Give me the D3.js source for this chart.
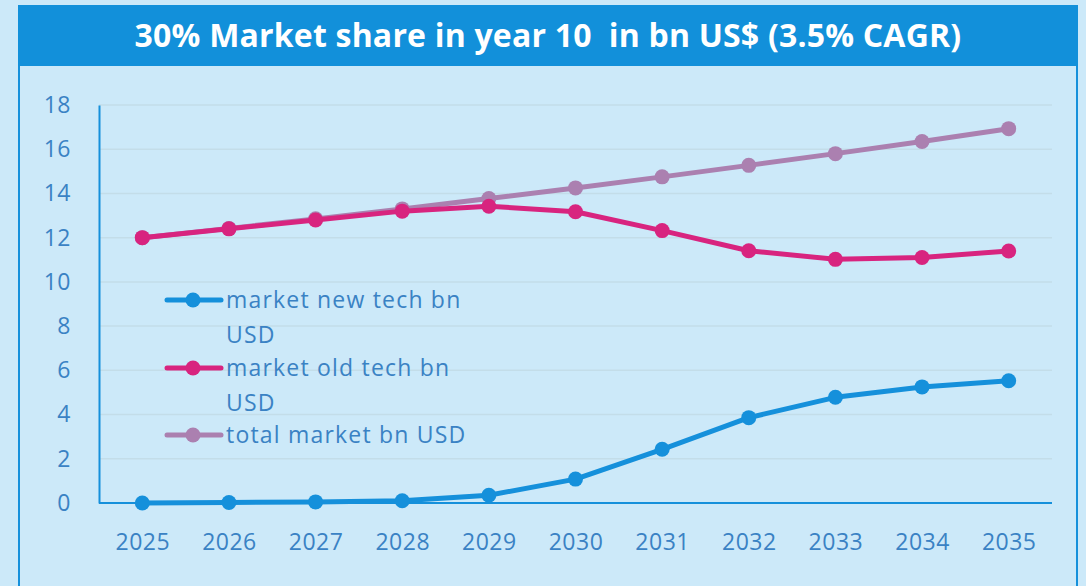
<!DOCTYPE html>
<meta charset="utf-8">
<head>
    <script src="https://d3js.org/d3.v7.min.js"></script>
    <style>
        body { margin: 0; background: #cce9f9; }
        svg { display: block; }
        .tick text { font-family: 'Open Sans', sans-serif; font-size: 23px; fill: #3a82c4; letter-spacing: 0.5px; }
        .legend text { font-family: 'Open Sans', sans-serif; font-size: 23px; fill: #3a82c4; letter-spacing: 1.2px; }
        .title { font-family: 'Open Sans', sans-serif; font-weight: 700; font-size: 32px; fill: #fff; white-space: pre; letter-spacing: 0.2px; }
    </style>
</head>
<body>
<svg width="1086" height="586"></svg>
<script>
    // chart values
    var years = ["2025", "2026", "2027", "2028", "2029", "2030", "2031", "2032", "2033", "2034", "2035"];
    var newTech = [0, 0.02, 0.05, 0.1, 0.35, 1.08, 2.43, 3.86, 4.78, 5.25, 5.53];
    var oldTech = [12, 12.4, 12.8, 13.2, 13.42, 13.17, 12.32, 11.41, 11.02, 11.1, 11.4];
    var total = [12, 12.42, 12.85, 13.3, 13.77, 14.25, 14.75, 15.27, 15.8, 16.35, 16.93];
    var yTicks = [0, 2, 4, 6, 8, 10, 12, 14, 16, 18];
    var titleText = "30% Market share in year 10  in bn US$ (3.5% CAGR)";

    var series = [
        { name: ["market new tech bn", "USD"], values: newTech, color: "#1590db" },
        { name: ["market old tech bn", "USD"], values: oldTech, color: "#d8247f" },
        { name: ["total market bn USD"], values: total, color: "#ab80b0" }
    ];

    var svg = d3.select("svg");

    // panel frame
    svg.append("rect")
        .attr("x", 19).attr("y", 6).attr("width", 1058).attr("height", 600)
        .attr("fill", "#cce9f9").attr("stroke", "#1590db").attr("stroke-width", 2);
    svg.append("rect")
        .attr("x", 18).attr("y", 5).attr("width", 1060).attr("height", 61)
        .attr("fill", "#1290da");
    svg.append("text")
        .attr("class", "title")
        .attr("x", 548).attr("y", 47)
        .attr("text-anchor", "middle")
        .text(titleText);

    var x = d3.scalePoint().domain(years).range([99, 1052]).padding(0.5);
    var y = d3.scaleLinear().domain([0, 18]).range([503, 105]);

    // grid
    svg.append("g")
        .selectAll("line")
        .data(yTicks.slice(1))
        .enter().append("line")
        .attr("x1", 99).attr("x2", 1052)
        .attr("y1", function (d) { return y(d); })
        .attr("y2", function (d) { return y(d); })
        .attr("stroke", "#c3dde9").attr("stroke-width", 1.5);

    var yAxis = svg.append("g")
        .attr("transform", "translate(99,0)")
        .call(d3.axisLeft(y).tickValues(yTicks).tickSize(0).tickPadding(28));
    yAxis.select(".domain").attr("stroke", "#1590db").attr("stroke-width", 2);

    var xAxis = svg.append("g")
        .attr("transform", "translate(0,503)")
        .call(d3.axisBottom(x).tickSize(0).tickPadding(31));
    xAxis.select(".domain").attr("stroke", "#1590db").attr("stroke-width", 2)
        .attr("d", "M99,0H1052");

    var line = d3.line()
        .x(function (d, i) { return x(years[i]); })
        .y(function (d) { return y(d); });

    // draw total first, then old, then new on top
    series.slice().reverse().forEach(function (s) {
        var g = svg.append("g");
        g.append("path")
            .attr("d", line(s.values))
            .attr("fill", "none")
            .attr("stroke", s.color)
            .attr("stroke-width", 5)
            .attr("stroke-linejoin", "round");
        g.selectAll("circle")
            .data(s.values)
            .enter().append("circle")
            .attr("cx", function (d, i) { return x(years[i]); })
            .attr("cy", function (d) { return y(d); })
            .attr("r", 7.5)
            .attr("fill", s.color);
    });

    // legend
    var legendRows = [300, 368, 435];
    var legend = svg.append("g").attr("class", "legend");
    series.forEach(function (s, i) {
        var ly = legendRows[i];
        legend.append("line")
            .attr("x1", 167).attr("x2", 221)
            .attr("y1", ly).attr("y2", ly)
            .attr("stroke", s.color).attr("stroke-width", 5).attr("stroke-linecap", "round");
        legend.append("circle")
            .attr("cx", 193).attr("cy", ly).attr("r", 7.5).attr("fill", s.color);
        s.name.forEach(function (t, j) {
            legend.append("text")
                .attr("x", 226)
                .attr("y", ly + 8 + j * 35)
                .text(t);
        });
    });
</script>
</body>
